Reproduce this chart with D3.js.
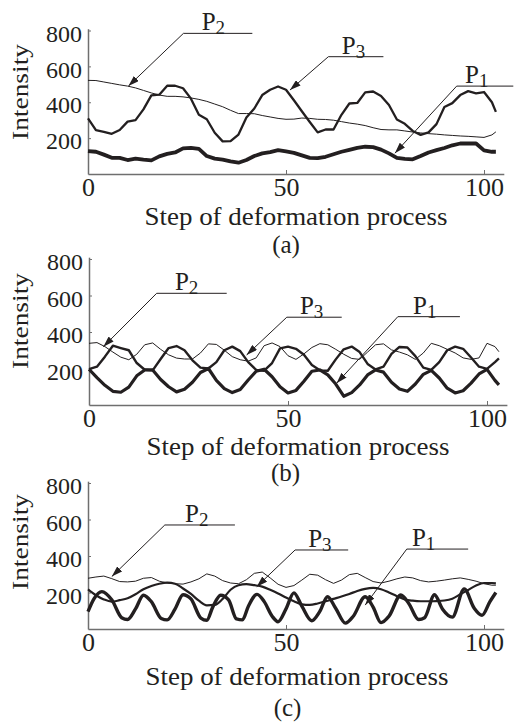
<!DOCTYPE html>
<html>
<head>
<meta charset="utf-8">
<script src="https://cdn.jsdelivr.net/npm/d3@7"></script>
<style>
body { margin: 0; background: #fff; }
svg text { font-family: "Liberation Serif", "Times New Roman", serif; fill: #231f20; }
</style>
</head>
<body>
<div id="chart"></div>
<script>
"use strict";

// ------------------------------------------------------------------
// Data
// ------------------------------------------------------------------
var steps = [0, 2, 4, 6, 8, 10, 12, 14, 16, 18,
             20, 22, 24, 26, 28, 30, 32, 34, 36, 38,
             40, 42, 44, 46, 48, 50, 52, 54, 56, 58,
             60, 62, 64, 66, 68, 70, 72, 74, 76, 78,
             80, 82, 84, 86, 88, 90, 92, 94, 96, 98,
             100, 102, 103];

// (a)
var p1a = [128, 124, 108, 90, 90, 78, 86, 80, 76, 98,
           112, 120, 143, 146, 140, 100, 86, 80, 70, 63,
           78, 100, 115, 122, 133, 126, 118, 104, 90, 88,
           96, 110, 124, 135, 146, 152, 150, 136, 115, 90,
           84, 82, 100, 120, 133, 145, 160, 170, 170, 170,
           132, 124, 124];
var p2a = [522, 521, 513, 505, 497, 490, 480, 466, 452, 440,
           433, 433, 430, 424, 416, 405, 390, 375, 355, 337,
           337, 336, 326, 318, 310, 305, 306, 312, 310, 305,
           304, 300, 292, 284, 278, 270, 258, 248, 246, 246,
           240, 234, 229, 225, 222, 218, 215, 212, 210, 207,
           204, 218, 235];
var p3a = [310, 244, 235, 224, 245, 292, 300, 360, 438, 442,
           492, 492, 478, 420, 330, 305, 230, 182, 183, 220,
           315, 365, 440, 470, 488, 470, 411, 350, 290, 232,
           248, 248, 330, 393, 396, 455, 460, 435, 385, 304,
           280, 240, 218, 232, 278, 374, 395, 440, 462, 450,
           457, 400, 346];

// (b)
var p1b = [196, 150, 108, 75, 70, 98, 160, 192, 192, 140,
           100, 72, 86, 125, 178, 200, 135, 90, 68, 85,
           137, 185, 196, 155, 100, 66, 80, 130, 185, 192,
           165, 115, 48, 68, 110, 165, 192, 180, 125, 88,
           75, 115, 168, 190, 148, 92, 66, 78, 120, 170,
           195, 135, 110];
var p2b = [338, 342, 320, 290, 262, 248, 278, 330, 340, 305,
           275, 257, 252, 252, 285, 335, 332, 300, 265, 248,
           240, 258, 325, 340, 320, 270, 250, 280, 315, 336,
           330, 305, 278, 255, 250, 290, 330, 335, 302, 290,
           275, 250, 285, 338, 325, 305, 285, 258, 250, 258,
           338, 320, 292];
var p3b = [196, 210, 265, 325, 312, 300, 230, 193, 190, 252,
           312, 323, 300, 245, 205, 200, 235, 300, 320, 295,
           235, 192, 188, 230, 310, 320, 308, 275, 219, 190,
           188, 250, 305, 320, 290, 225, 195, 210, 280, 318,
           315, 268, 205, 192, 235, 300, 320, 308, 260, 210,
           198, 235, 255];

// (c)
var p1cSteps = [0, 1.5, 3.5, 6, 8.5, 10, 12, 14, 16, 18.5,
                20, 22, 24, 26, 28.5, 30, 31.5, 33.5, 35.5, 37.5,
                39, 40.5, 42.7, 44.5, 46.5, 48, 50, 52, 54, 56.5,
                58.5, 60.5, 62.5, 65, 67, 70, 72, 74, 76, 79,
                81, 83.5, 85, 87.5, 89.5, 92, 95, 97.5, 99.5, 101.5,
                103];
var p1c = [95, 165, 205, 160, 62, 52, 110, 185, 150, 58,
           50, 110, 188, 165, 60, 48, 120, 185, 160, 55,
           50, 125, 190, 150, 70, 40, 110, 198, 125, 45,
           95, 177, 115, 32, 70, 177, 120, 35, 70, 186,
           140, 52, 62, 188, 110, 65, 220, 115, 75, 150,
           200];
var p2c = [278, 285, 290, 276, 260, 258, 262, 278, 282, 262,
           252, 248, 246, 258, 275, 302, 290, 265, 252, 248,
           270, 305, 312, 280, 245, 228, 238, 268, 300, 295,
           270, 250, 268, 298, 305, 282, 260, 252, 262, 275,
           285, 280, 265, 258, 262, 268, 275, 280, 272, 262,
           248, 240, 240];
var p3c = [217, 185, 162, 150, 158, 168, 190, 218, 236, 248,
           254, 248, 222, 192, 155, 130, 132, 165, 215, 240,
           246, 240, 232, 215, 195, 172, 152, 135, 132, 140,
           152, 165, 178, 192, 208, 220, 225, 218, 200, 180,
           162, 155, 152, 152, 153, 156, 166, 190, 214, 238,
           252, 252, 250];

var xTicks = [0, 50, 100];
var yTicks = [200, 400, 600, 800];
var xTitle = "Step of deformation process";
var yTitle = "Intensity";
var captions = ["(a)", "(b)", "(c)"];

function zip(xs, ys) {
    return xs.map(function (x, i) { return [x, ys[i]]; });
}

// ------------------------------------------------------------------
// Layout of the three panels
// ------------------------------------------------------------------
var ink = "#231f20";
var axisColor = "#6f6f6f";

var panels = [
    {
        x0: 88, x100: 484, y0: 174, y800: 30.5,
        titleX: 296, titleY: 225, capX: 286, capY: 253, yTitleY: 92,
        series: [
            { data: zip(steps, p2a), width: 1.0, curve: d3.curveLinear },
            { data: zip(steps, p3a), width: 2.3, curve: d3.curveLinear },
            { data: zip(steps, p1a), width: 3.8, curve: d3.curveLinear }
        ],
        notes: [
            { sub: "2", tip: [10.2, 490], elbow: [24.1, 784], end: 41.5, label: 28.7 },
            { sub: "3", tip: [51, 468], elbow: [60.7, 654], end: 74.6, label: 64.1 },
            { sub: "1", tip: [77.5, 116], elbow: [93.1, 490], end: 107.4, label: 95.2 }
        ]
    },
    {
        x0: 89, x100: 487, y0: 405, y800: 259,
        titleX: 298, titleY: 455, capX: 285.5, capY: 481, yTitleY: 321,
        series: [
            { data: zip(steps, p2b), width: 1.0, curve: d3.curveLinear },
            { data: zip(steps, p3b), width: 2.4, curve: d3.curveLinear },
            { data: zip(steps, p1b), width: 3.2, curve: d3.curveLinear }
        ],
        notes: [
            { sub: "2", tip: [3.6, 319], elbow: [17, 612], end: 34.6, label: 21.6 },
            { sub: "3", tip: [39.6, 274], elbow: [49.7, 481], end: 63.5, label: 53 },
            { sub: "1", tip: [62.2, 119], elbow: [77.6, 484], end: 93.2, label: 81.4 }
        ]
    },
    {
        x0: 88, x100: 484, y0: 629, y800: 483,
        titleX: 297, titleY: 685, capX: 287.5, capY: 715.5, yTitleY: 542,
        series: [
            { data: zip(steps, p2c), width: 1.0, curve: d3.curveLinear },
            { data: zip(steps, p3c), width: 2.2, curve: d3.curveMonotoneX },
            { data: zip(p1cSteps, p1c), width: 3.4, curve: d3.curveMonotoneX }
        ],
        notes: [
            { sub: "2", tip: [6, 287], elbow: [19.4, 570], end: 37.1, label: 24.5 },
            { sub: "3", tip: [42.6, 232], elbow: [52.3, 433], end: 65.7, label: 55.6 },
            { sub: "1", tip: [70, 131], elbow: [80.5, 438], end: 96, label: 81.8 }
        ]
    }
];

// ------------------------------------------------------------------
// Drawing
// ------------------------------------------------------------------
var svg = d3.select("#chart").append("svg")
    .attr("width", 514)
    .attr("height", 725);

svg.append("defs").append("marker")
    .attr("id", "arrow")
    .attr("viewBox", "0 0 11 7")
    .attr("refX", 11)
    .attr("refY", 3.5)
    .attr("markerWidth", 11)
    .attr("markerHeight", 7)
    .attr("markerUnits", "userSpaceOnUse")
    .attr("orient", "auto")
    .append("path")
    .attr("d", "M0,0 L11,3.5 L0,7 Z")
    .attr("fill", ink);

panels.forEach(function (p, idx) {
    var kx = (p.x100 - p.x0) / 100;
    var ky = (p.y0 - p.y800) / 800;

    var xScale = d3.scaleLinear().domain([0, 105]).range([p.x0, p.x0 + 105 * kx]);
    var yScale = d3.scaleLinear().domain([0, 810]).range([p.y0, p.y0 - 810 * ky]);

    var g = svg.append("g");

    // axes
    var xAxis = d3.axisBottom(xScale)
        .tickValues(xTicks)
        .tickSizeInner(-4)
        .tickSizeOuter(0)
        .tickFormat(d3.format("d"));
    var gx = g.append("g")
        .attr("transform", "translate(0," + p.y0 + ")")
        .call(xAxis)
        .attr("font-family", null);
    gx.select(".domain").attr("stroke", axisColor).attr("stroke-width", 1.5);
    gx.selectAll(".tick line").attr("stroke", axisColor);
    gx.selectAll(".tick text")
        .attr("font-size", 26)
        .attr("dy", null)
        .attr("y", 22)
        .attr("fill", ink);

    var yAxis = d3.axisLeft(yScale)
        .tickValues(yTicks)
        .tickSizeInner(-3)
        .tickSizeOuter(0)
        .tickPadding(6);
    var gy = g.append("g")
        .attr("transform", "translate(" + p.x0 + ",0)")
        .call(yAxis)
        .attr("font-family", null);
    gy.select(".domain").attr("stroke", axisColor).attr("stroke-width", 1.5);
    gy.selectAll(".tick line").attr("stroke", axisColor);
    gy.selectAll(".tick text")
        .attr("font-size", 24)
        .attr("y", 3)
        .attr("fill", ink);

    // axis titles
    g.append("text")
        .attr("x", p.titleX)
        .attr("y", p.titleY)
        .attr("text-anchor", "middle")
        .attr("font-size", 26)
        .attr("textLength", 303)
        .attr("lengthAdjust", "spacingAndGlyphs")
        .text(xTitle);

    g.append("text")
        .attr("transform", "translate(28," + p.yTitleY + ")rotate(-90)")
        .attr("text-anchor", "middle")
        .attr("font-size", 23)
        .attr("textLength", 96)
        .attr("lengthAdjust", "spacingAndGlyphs")
        .text(yTitle);

    g.append("text")
        .attr("x", p.capX)
        .attr("y", p.capY)
        .attr("text-anchor", "middle")
        .attr("font-size", 25)
        .text(captions[idx]);

    // series
    p.series.forEach(function (s) {
        var line = d3.line()
            .x(function (d) { return xScale(d[0]); })
            .y(function (d) { return yScale(d[1]); })
            .curve(s.curve);
        g.append("path")
            .datum(s.data)
            .attr("d", line)
            .attr("fill", "none")
            .attr("stroke", ink)
            .attr("stroke-width", s.width)
            .attr("stroke-linejoin", "round");
    });

    // leader lines and labels
    p.notes.forEach(function (n) {
        var ly = yScale(n.elbow[1]);
        g.append("path")
            .attr("d", "M" + xScale(n.end) + "," + ly +
                       "L" + xScale(n.elbow[0]) + "," + ly +
                       "L" + xScale(n.tip[0]) + "," + yScale(n.tip[1]))
            .attr("fill", "none")
            .attr("stroke", ink)
            .attr("stroke-width", 1)
            .attr("marker-end", "url(#arrow)");

        var t = g.append("text")
            .attr("x", xScale(n.label))
            .attr("y", ly - 3)
            .attr("font-size", 25)
            .text("P");
        t.append("tspan")
            .attr("font-size", 19)
            .attr("dy", 4)
            .text(n.sub);
    });
});
</script>
</body>
</html>
